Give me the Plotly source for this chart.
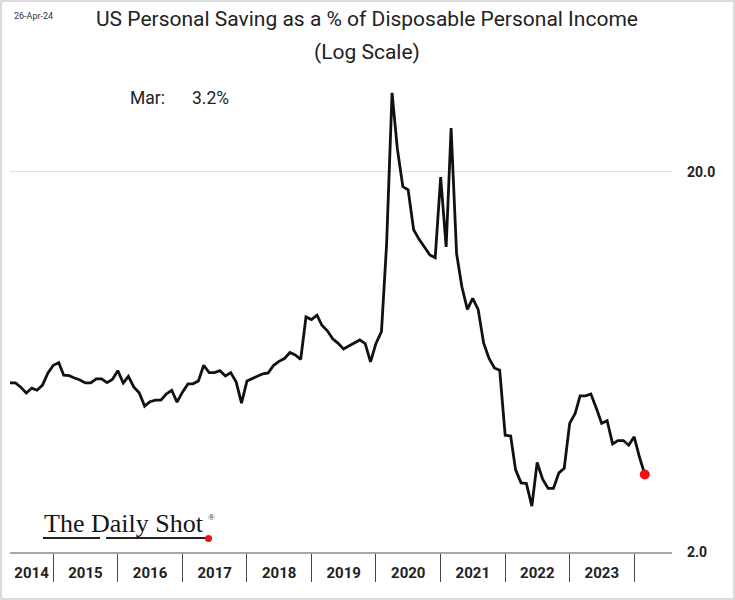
import math
import pandas as pd
import plotly.graph_objects as go

# ---------------- data ----------------
start_month = "2014-05-01"
saving_rate = [
    # 2014 (May-Dec)
    5.57, 5.57, 5.43, 5.24, 5.40, 5.33, 5.50, 5.91,
    # 2015
    6.20, 6.30, 5.84, 5.82, 5.74, 5.67, 5.57, 5.57, 5.71, 5.71, 5.58, 5.69,
    # 2016
    6.00, 5.57, 5.80, 5.43, 5.25, 4.84, 4.97, 5.02, 5.02, 5.21, 5.33, 4.96,
    # 2017
    5.27, 5.54, 5.54, 5.64, 6.20, 5.93, 5.93, 6.00, 5.81, 5.93, 5.60, 4.93,
    # 2018
    5.64, 5.73, 5.82, 5.89, 5.92, 6.20, 6.35, 6.46, 6.70, 6.60, 6.43, 8.31,
    # 2019
    8.18, 8.40, 7.90, 7.64, 7.28, 7.08, 6.84, 6.96, 7.10, 7.23, 7.07, 6.33,
    # 2020
    7.08, 7.60, 12.9, 32.3, 23.0, 18.3, 17.96, 14.1, 13.3, 12.7, 12.1, 11.9,
    # 2021
    19.4, 12.7, 26.1, 12.2, 9.98, 8.7, 9.3, 8.7, 7.1, 6.47, 6.10, 6.02,
    # 2022
    4.06, 4.04, 3.29, 3.04, 3.03, 2.64, 3.44, 3.11, 2.94, 2.94, 3.23, 3.32,
    # 2023
    4.36, 4.63, 5.15, 5.15, 5.21, 4.78, 4.36, 4.43, 3.85, 3.93, 3.93, 3.82,
    # 2024 (Jan-Mar)
    4.02, 3.54, 3.2,
]
year_labels = ["2014", "2015", "2016", "2017", "2018", "2019", "2020", "2021", "2022", "2023"]
separator_years = [2015, 2016, 2017, 2018, 2019, 2020, 2021, 2022, 2023, 2024]
y_tick_vals = [2, 20]
y_tick_text = ["2.0", "20.0"]
last_month_label = "Mar"
date_stamp = "26-Apr-24"
title_line1 = "US Personal Saving as a % of Disposable Personal Income"
title_line2 = "(Log Scale)"

dates = pd.date_range(start_month, periods=len(saving_rate), freq="MS")

# ---------------- geometry helpers ----------------
W, H = 735, 600
def px(x):
    return x / W
def py(y):
    return 1 - y / H

x_range = ["2014-05-01", "2024-08-02"]
y_min, y_max = 2, 35
# pixel rows: 20 -> 172, 2 -> 552
top_px = 172 - 380 * math.log10(y_max / 20)

label_pos = []
for yl in year_labels:
    y = int(yl)
    a = max(pd.Timestamp(f"{y}-01-01"), pd.Timestamp(x_range[0]))
    b = pd.Timestamp(f"{y}-12-31")
    label_pos.append(a + (b - a) / 2)

FONT = "Roboto"

fig = go.Figure()
fig.add_trace(go.Scatter(
    x=dates, y=saving_rate, mode="lines",
    line=dict(color="#111111", width=2.8),
    hoverinfo="skip", showlegend=False,
))
fig.add_trace(go.Scatter(
    x=[dates[-1]], y=[saving_rate[-1]], mode="markers",
    marker=dict(color="#ee1111", size=10),
    hoverinfo="skip", showlegend=False,
))

fig.update_layout(
    width=W, height=H,
    margin=dict(l=0, r=0, t=0, b=0, autoexpand=False),
    paper_bgcolor="white", plot_bgcolor="white",
    font=dict(family=FONT, color="#222222"),
    showlegend=False,
    xaxis=dict(
        type="date",
        automargin=False,
        domain=[px(10), px(672)],
        range=x_range,
        showgrid=False, zeroline=False,
        showline=True, linecolor="#a8a8a8", linewidth=2,
        tickmode="array", tickvals=label_pos, ticktext=year_labels,
        ticks="", ticklabelstandoff=6,
        tickfont=dict(size=15, family=FONT, color="#222222", weight="bold"),
        minor=dict(
            tickmode="array",
            tickvals=[pd.Timestamp(f"{y}-01-01") for y in separator_years],
            ticks="outside", ticklen=28, tickwidth=1, tickcolor="#444444",
            showgrid=False,
        ),
        fixedrange=True,
    ),
    yaxis=dict(
        type="log",
        automargin=False,
        domain=[py(552), py(top_px)],
        range=[math.log10(y_min), math.log10(y_max)],
        side="right",
        tickmode="array", tickvals=y_tick_vals, ticktext=y_tick_text,
        ticks="", ticklabelstandoff=14,
        tickfont=dict(size=14, family=FONT, color="#222222", weight="bold"),
        showgrid=True, gridcolor="#e2e2e2", gridwidth=1,
        zeroline=False, showline=False,
        fixedrange=True,
    ),
)

annotations = [
    dict(text=title_line1, x=px(367), y=py(19), font=dict(size=21, family=FONT, color="#222222")),
    dict(text=title_line2, x=px(367), y=py(52), font=dict(size=21, family=FONT, color="#222222")),
    dict(text=date_stamp, x=px(12), y=py(16), xanchor="left", font=dict(size=9, family=FONT, color="#333333")),
    dict(text=f"{last_month_label}:", x=px(128), y=py(98), xanchor="left", font=dict(size=17.5, family=FONT, color="#222222")),
    dict(text=f"{saving_rate[-1]:.1f}%", x=px(190), y=py(98), xanchor="left", font=dict(size=17.5, family=FONT, color="#222222")),
    dict(text="The Daily Shot", x=px(42), y=py(523), xanchor="left",
         font=dict(size=26, family="Liberation Serif", color="#151515")),
    dict(text="®", x=px(206), y=py(517), xanchor="left", font=dict(size=9, family="Liberation Serif", color="#222222")),
]
for a in annotations:
    a.update(xref="paper", yref="paper", showarrow=False)
    a.setdefault("xanchor", "center")
    a.setdefault("yanchor", "middle")
fig.update_layout(annotations=annotations)

shapes = [
    dict(type="rect", x0=px(1), x1=px(734), y0=py(599), y1=py(1),
         line=dict(color="#cfcfcf", width=1.5)),
    dict(type="line", x0=px(43), x1=px(100), y0=py(538), y1=py(538), line=dict(color="#222222", width=2)),
    dict(type="line", x0=px(106), x1=px(206), y0=py(538), y1=py(538), line=dict(color="#222222", width=2)),
    dict(type="circle", x0=px(205), x1=px(212), y0=py(542), y1=py(535),
         fillcolor="#ee1111", line=dict(color="#ee1111", width=0)),
]
for s in shapes:
    s.update(xref="paper", yref="paper")
fig.update_layout(shapes=shapes)

fig.write_html(
    "out.html",
    config={"displayModeBar": False, "staticPlot": True},
    post_script="document.body.style.margin='0px';document.body.style.overflow='hidden';",
)
